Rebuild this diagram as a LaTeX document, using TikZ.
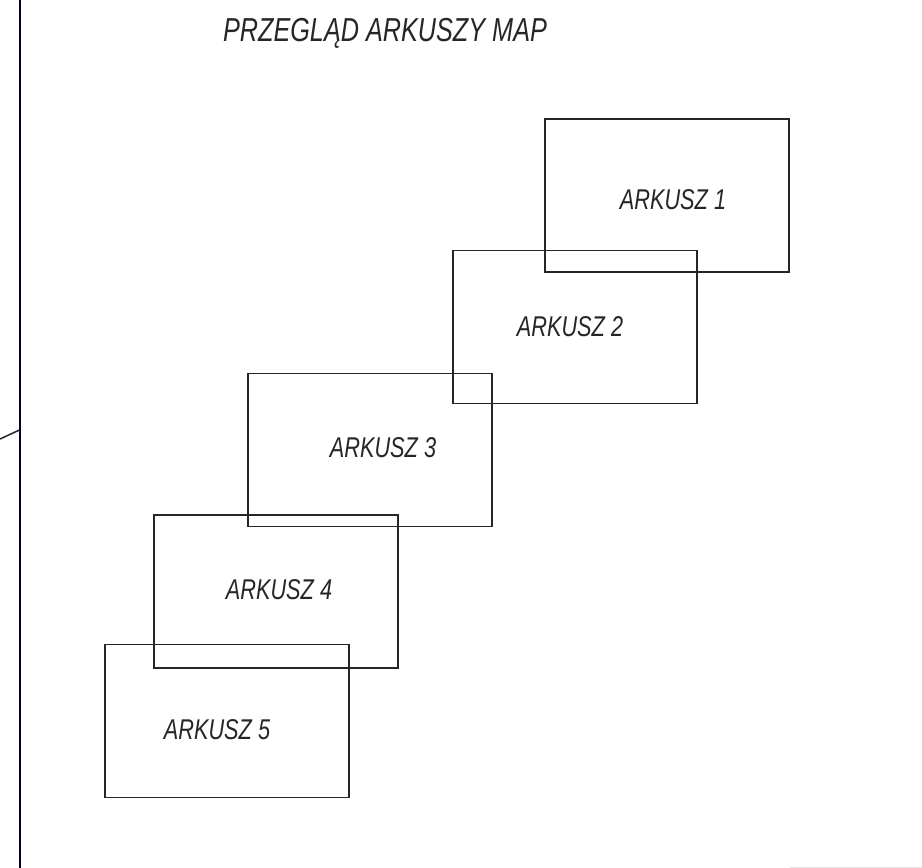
\documentclass[tikz,border=0pt]{standalone}
\usepackage{fontspec}
\newfontfamily\cadfont[FakeStretch=0.76]{Liberation Sans}
\begin{document}
\begin{tikzpicture}[x=0.5pt,y=-0.5pt,
  sheet/.style={draw=black!85, line width=0.75pt, minimum width=122pt, minimum height=76.5pt, inner sep=0pt},
  lbl/.style={font=\cadfont\itshape\fontsize{14.3}{16}\selectfont, text=black!85, inner sep=0pt},
  ttl/.style={font=\cadfont\itshape\fontsize{16.6}{18}\selectfont, text=black!85, inner sep=0pt}]
\useasboundingbox[fill=white] (0,0) rectangle (922,868);
% frame lines
\coordinate (ltop) at (19.5,0);
\coordinate (lbot) at (19.5,868);
\coordinate (lmid) at (19.5,430);
\coordinate (ledge) at (0,439);
\draw[line width=1pt, draw=black!80!blue] (ltop) -- (lbot);
\draw[line width=0.75pt, draw=black!85] (ledge) -- (lmid);
\coordinate (bl) at (790,867.5);
\coordinate (br) at (922,867.5);
\draw[line width=0.4pt, draw=black!10] (bl) -- (br);
% title
\node[ttl] (title) at (385,33) {PRZEGLĄD ARKUSZY MAP};
% sheets
\node[sheet] (a1) at (667,195.5) {};
\node[sheet] (a2) at (575,327) {};
\node[sheet] (a3) at (370,450) {};
\node[sheet] (a4) at (276,591.5) {};
\node[sheet] (a5) at (227,721) {};
% labels
\node[lbl] (t1) at (673,200) {ARKUSZ 1};
\node[lbl] (t2) at (570,327) {ARKUSZ 2};
\node[lbl] (t3) at (383,448) {ARKUSZ 3};
\node[lbl] (t4) at (279,590) {ARKUSZ 4};
\node[lbl] (t5) at (217,730) {ARKUSZ 5};
\end{tikzpicture}
\end{document}
